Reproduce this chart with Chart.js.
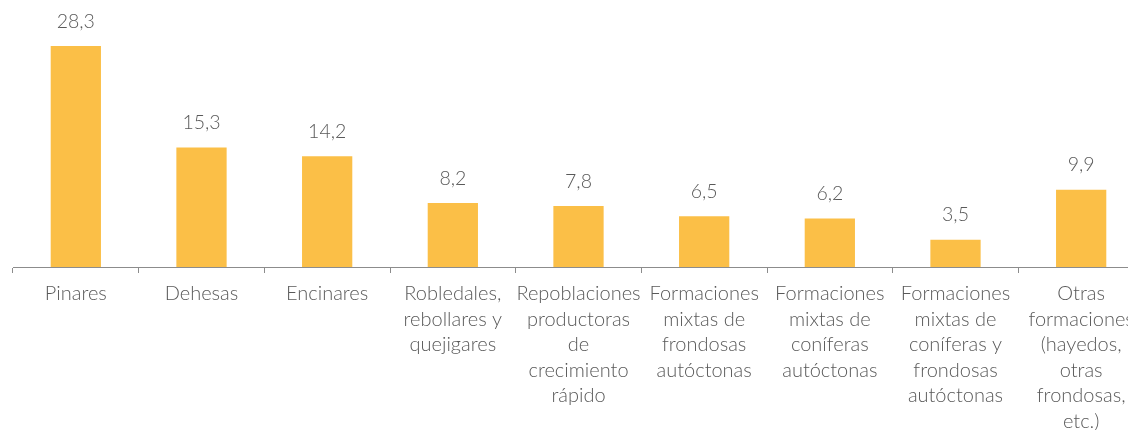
<!DOCTYPE html>
<html>
<head>
<meta charset="utf-8">
<script src="https://cdn.jsdelivr.net/npm/chart.js@4/dist/chart.umd.min.js"></script>
<style>
  html, body { margin: 0; padding: 0; background: #fff; overflow: hidden; }
  #wrap { width: 1144px; height: 442px; position: relative; }
</style>
</head>
<body>
<div id="wrap"><canvas id="chart"></canvas></div>
<script>
const categories = [
  ["Pinares"],
  ["Dehesas"],
  ["Encinares"],
  ["Robledales,", "rebollares y", "quejigares"],
  ["Repoblaciones", "productoras", "de", "crecimiento", "rápido"],
  ["Formaciones", "mixtas de", "frondosas", "autóctonas"],
  ["Formaciones", "mixtas de", "coníferas", "autóctonas"],
  ["Formaciones", "mixtas de", "coníferas y", "frondosas", "autóctonas"],
  ["Otras", "formaciones", "(hayedos,", "otras", "frondosas,", "etc.)"],
];
const values = [28.3, 15.3, 14.2, 8.2, 7.8, 6.5, 6.2, 3.5, 9.9];

const barColor = "#fbbf47";
const textColor = "#595959";
const axisColor = "#8c8c8c";

const valueLabels = {
  id: "valueLabels",
  afterDatasetsDraw(chart) {
    const { ctx } = chart;
    const meta = chart.getDatasetMeta(0);
    ctx.save();
    ctx.fillStyle = textColor;
    ctx.font = "300 19.5px Lato, sans-serif";
    ctx.textAlign = "center";
    ctx.textBaseline = "bottom";
    meta.data.forEach((bar, i) => {
      ctx.fillText(values[i].toFixed(1).replace(".", ","), bar.x, bar.y - 15);
    });
    ctx.restore();
  },
};

new Chart(document.getElementById("chart"), {
  type: "bar",
  data: {
    labels: categories,
    datasets: [{
      data: values,
      backgroundColor: barColor,
      categoryPercentage: 1,
      barPercentage: 0.4,
    }],
  },
  options: {
    responsive: true,
    maintainAspectRatio: false,
    animation: false,
    layout: { padding: { left: 13, right: 0, top: 0, bottom: 0 } },
    plugins: { legend: { display: false }, tooltip: { enabled: false } },
    scales: {
      x: {
        grid: { display: true, drawOnChartArea: false, color: axisColor, tickLength: 6, offset: true },
        border: { display: true, color: axisColor, width: 1 },
        ticks: {
          color: textColor,
          font: { family: "Lato", weight: 300, size: 20, lineHeight: "25.5px" },
          maxRotation: 0,
          autoSkip: false,
          padding: 8,
        },
      },
      y: {
        display: false,
        min: 0,
        max: 34.2,
      },
    },
  },
  plugins: [valueLabels],
});
</script>
</body>
</html>
